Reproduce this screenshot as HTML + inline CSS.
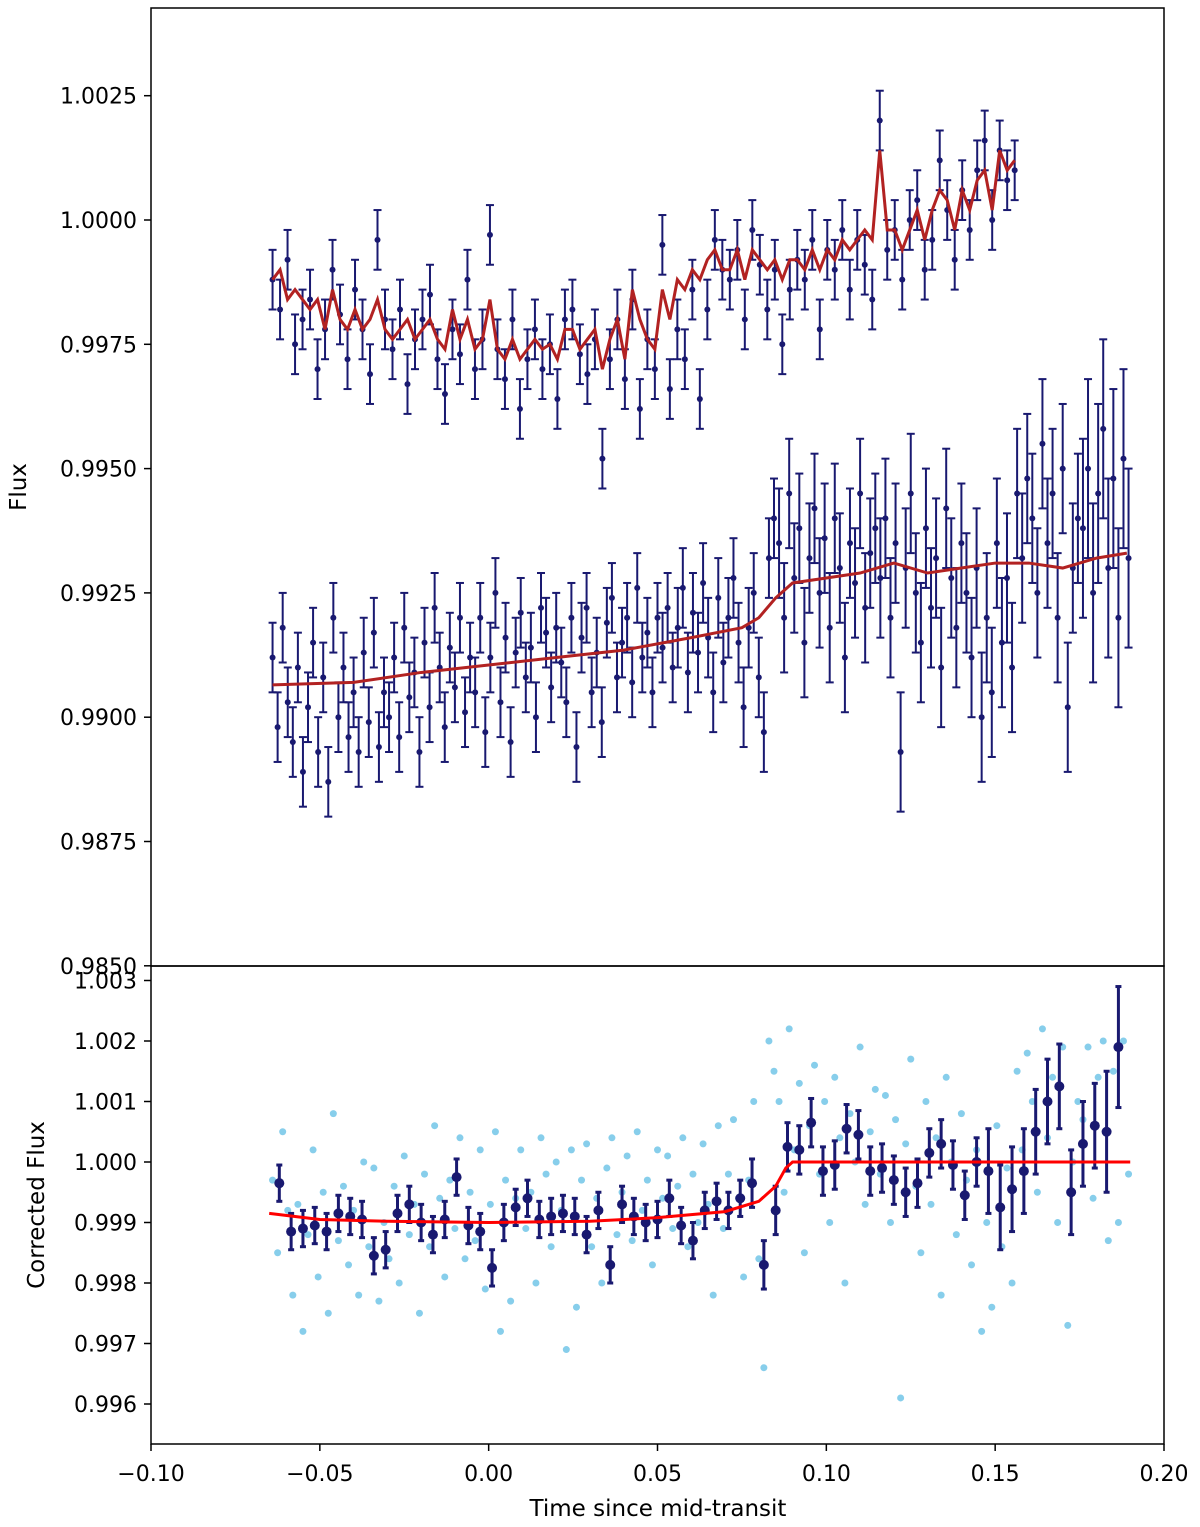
<!DOCTYPE html>
<html><head><meta charset="utf-8"><style>
html,body{margin:0;padding:0;background:#fff;}
svg{display:block;font-family:"DejaVu Sans","Liberation Sans",sans-serif;}
</style></head><body>
<svg id="chart" width="1200" height="1527" viewBox="0 0 1200 1527" xmlns="http://www.w3.org/2000/svg">
<g id="topPanel"></g>
<g id="botPanel"></g>
</svg>
<script>
// ---- data ----
const topStart = -0.064, topStep = 0.00222;
const topFlux = [0.9988,0.9982,0.9992,0.9975,0.9980,0.9984,0.9970,0.9978,0.9990,0.9981,
0.9972,0.9986,0.9978,0.9969,0.9996,0.9980,0.9974,0.9982,0.9967,0.9976,
0.9980,0.9985,0.9972,0.9965,0.9978,0.9973,0.9988,0.9970,0.9976,0.9997,
0.9974,0.9968,0.9980,0.9962,0.9972,0.9978,0.9970,0.9975,0.9964,0.9980,
0.9982,0.9973,0.9969,0.9976,0.9952,0.9972,0.9980,0.9968,0.9984,0.9962,
0.9976,0.9970,0.9995,0.9966,0.9978,0.9972,0.9986,0.9964,0.9982,0.9996,
0.9990,0.9988,0.9994,0.9980,0.9998,0.9991,0.9982,0.9990,0.9975,0.9986,
0.9992,0.9988,0.9996,0.9978,0.9994,0.9990,0.9998,0.9986,0.9996,0.9991,
0.9984,1.0020,0.9994,0.9998,0.9988,1.0000,1.0004,0.9990,0.9996,1.0012,
1.0002,0.9992,1.0006,0.9998,1.0010,1.0016,1.0000,1.0014,1.0008,1.0010];
const topModel = [0.9988,0.9990,0.9984,0.9986,0.9984,0.9982,0.9984,0.9978,0.9986,0.9980,
0.9978,0.9982,0.9978,0.9980,0.9984,0.9978,0.9976,0.9978,0.9980,0.9976,
0.9978,0.9980,0.9976,0.9974,0.9982,0.9976,0.9980,0.9974,0.9976,0.9984,
0.9974,0.9972,0.9976,0.9972,0.9974,0.9976,0.9974,0.9975,0.9972,0.9978,
0.9978,0.9974,0.9976,0.9978,0.9970,0.9976,0.9980,0.9972,0.9986,0.9980,
0.9976,0.9974,0.9986,0.9980,0.9988,0.9986,0.9990,0.9988,0.9992,0.9994,
0.9990,0.9990,0.9994,0.9988,0.9994,0.9992,0.9990,0.9992,0.9988,0.9992,
0.9992,0.9990,0.9994,0.9990,0.9994,0.9992,0.9996,0.9994,0.9996,0.9998,
0.9996,1.0014,0.9998,0.9998,0.9994,0.9998,1.0002,0.9996,1.0002,1.0006,
1.0004,0.9998,1.0006,1.0002,1.0008,1.0010,1.0002,1.0014,1.0010,1.0012];
const topErr = 0.0006;

const midStart = -0.064, midStep = 0.0015;
const midFlux = [0.9912,0.9898,0.9918,0.9903,0.9895,0.9910,0.9889,0.9902,0.9915,0.9893,0.9908,0.9887,0.9920,0.9900,0.9910,0.9896,0.9905,0.9893,0.9913,0.9899,
0.9917,0.9894,0.9905,0.9900,0.9912,0.9896,0.9918,0.9904,0.9909,0.9893,0.9915,0.9902,0.9922,0.9910,0.9898,0.9914,0.9906,0.9920,0.9901,0.9912,
0.9905,0.9920,0.9897,0.9912,0.9925,0.9903,0.9916,0.9895,0.9913,0.9921,0.9908,0.9914,0.9900,0.9922,0.9917,0.9906,0.9918,0.9911,0.9903,0.9920,
0.9894,0.9916,0.9922,0.9905,0.9913,0.9899,0.9919,0.9924,0.9908,0.9915,0.9920,0.9907,0.9926,0.9912,0.9917,0.9905,0.9920,0.9914,0.9922,0.9910,
0.9918,0.9926,0.9909,0.9921,0.9913,0.9927,0.9916,0.9905,0.9924,0.9911,0.9920,0.9928,0.9915,0.9902,0.9918,0.9925,0.9908,0.9897,0.9932,0.9940,
0.9935,0.9920,0.9945,0.9928,0.9938,0.9915,0.9932,0.9942,0.9925,0.9936,0.9918,0.9940,0.9930,0.9912,0.9935,0.9927,0.9945,0.9922,0.9933,0.9938,
0.9928,0.9940,0.9920,0.9935,0.9893,0.9930,0.9945,0.9925,0.9915,0.9938,0.9922,0.9932,0.9910,0.9942,0.9928,0.9918,0.9935,0.9925,0.9912,0.9930,
0.9900,0.9920,0.9905,0.9935,0.9915,0.9928,0.9910,0.9945,0.9932,0.9948,0.9940,0.9925,0.9955,0.9935,0.9945,0.9920,0.9950,0.9902,0.9930,0.9940,
0.9938,0.9950,0.9925,0.9945,0.9958,0.9930,0.9948,0.9920,0.9952,0.9932];
const midErrBlocks = [0.0007,0.0007,0.0007,0.0007,0.0008,0.0011,0.0012,0.0013,0.0018];
const midModelT = [-0.064,-0.04,-0.02,0,0.02,0.04,0.06,0.075,0.08,0.085,0.09,0.1,0.11,0.12,0.13,0.14,0.15,0.16,0.17,0.18,0.189];
const midModel = [0.99065,0.9907,0.9909,0.99105,0.9912,0.99135,0.9916,0.9918,0.9920,0.9924,0.9927,0.9928,0.9929,0.9931,0.9929,0.9930,0.9931,0.9931,0.9930,0.9932,0.9933];

const lightFlux = [0.9997,0.9985,1.0005,0.9992,0.9978,0.9993,0.9972,0.9988,1.0002,0.9981,0.9995,0.9975,1.0008,0.9987,0.9996,0.9983,0.9992,0.9978,1.0000,0.9986,
0.9999,0.9977,0.9990,0.9984,0.9996,0.9980,1.0001,0.9988,0.9993,0.9975,0.9998,0.9986,1.0006,0.9994,0.9981,0.9997,0.9989,1.0004,0.9984,0.9995,
0.9987,1.0002,0.9979,0.9993,1.0005,0.9972,0.9997,0.9977,0.9994,1.0002,0.9989,0.9995,0.9980,1.0004,0.9998,0.9986,1.0000,0.9992,0.9969,1.0002,
0.9976,0.9997,1.0003,0.9986,0.9994,0.9980,0.9999,1.0004,0.9988,0.9995,1.0001,0.9987,1.0005,0.9992,0.9997,0.9983,1.0002,0.9994,1.0001,0.9989,
0.9996,1.0004,0.9986,0.9998,0.9990,1.0003,0.9993,0.9978,1.0006,0.9989,0.9998,1.0007,0.9994,0.9981,0.9997,1.0010,0.9984,0.9966,1.0020,1.0015,
1.0010,0.9995,1.0022,1.0002,1.0013,0.9985,1.0006,1.0016,0.9998,1.0010,0.9990,1.0014,1.0004,0.9980,1.0008,1.0000,1.0019,0.9993,1.0005,1.0012,
0.9998,1.0011,0.9990,1.0007,0.9961,1.0003,1.0017,0.9996,0.9985,1.0010,0.9993,1.0004,0.9978,1.0014,1.0000,0.9988,1.0008,0.9997,0.9983,1.0002,
0.9972,0.9990,0.9976,1.0006,0.9986,0.9999,0.9980,1.0015,1.0002,1.0018,1.0010,0.9995,1.0022,1.0004,1.0014,0.9990,1.0019,0.9973,1.0000,1.0010,
1.0007,1.0019,0.9994,1.0014,1.0020,0.9987,1.0015,0.9990,1.0020,0.9998];

const binStart = -0.062, binStep = 0.0035;
const binFlux = [0.99965,0.99885,0.99890,0.99895,0.99885,0.99915,0.99910,0.99905,0.99845,0.99855,
0.99915,0.99930,0.99900,0.99880,0.99905,0.99975,0.99895,0.99885,0.99825,0.99900,
0.99925,0.99940,0.99905,0.99910,0.99915,0.99910,0.99880,0.99920,0.99830,0.99930,
0.99910,0.99900,0.99905,0.99940,0.99895,0.99870,0.99920,0.99935,0.99920,0.99940,
0.99965,0.99830,0.99920,1.00025,1.00020,1.00065,0.99985,0.99995,1.00055,1.00045,
0.99985,0.99990,0.99970,0.99950,0.99965,1.00015,1.00030,0.99995,0.99945,1.00000,
0.99985,0.99925,0.99955,0.99985,1.00050,1.00100,1.00125,0.99950,1.00030,1.00060,
1.00050,1.00190];
const binErrBlocks = [0.0003,0.0003,0.0003,0.0003,0.0004,0.0004,0.0007,0.0010];
const transitT = [-0.065,-0.05,-0.03,0,0.03,0.05,0.07,0.08,0.085,0.088,0.09,0.19];
const transitModel = [0.99915,0.99905,0.99902,0.99900,0.99902,0.99908,0.99918,0.99935,0.99960,0.99990,1.0,1.0];

const xTicks = [-0.10,-0.05,0.00,0.05,0.10,0.15,0.20];
const xTickLabels = ["\u22120.10","\u22120.05","0.00","0.05","0.10","0.15","0.20"];
const topTicks = [0.9850,0.9875,0.9900,0.9925,0.9950,0.9975,1.0000,1.0025];
const topTickLabels = ["0.9850","0.9875","0.9900","0.9925","0.9950","0.9975","1.0000","1.0025"];
const botTicks = [0.996,0.997,0.998,0.999,1.000,1.001,1.002,1.003];
const botTickLabels = ["0.996","0.997","0.998","0.999","1.000","1.001","1.002","1.003"];

// ---- axes ----
const L=151,R=1164,T1=8,B1=966,T2=966,B2=1444;
const xS = v => L + (v+0.10)/0.30*(R-L);
const yTop = v => 220 + (1.0 - v)/0.0025*124.3;
const yBot = v => 1162 + (1.0 - v)/0.001*60.5;
const NS="http://www.w3.org/2000/svg";
function mk(tag, attrs, parent){const e=document.createElementNS(NS,tag);for(const k in attrs)e.setAttribute(k,attrs[k]);parent.appendChild(e);return e;}
const topG=document.getElementById('topPanel'), botG=document.getElementById('botPanel'), svgEl=document.getElementById('chart');
const NAVY="#191970";

function errPoint(g, x, y, yl, yh, r, cap, w, name){
  const ln=mk('line',{x1:x,x2:x,y1:yl,y2:yh,stroke:NAVY,'stroke-width':w},g);
  
  
  const c1=mk('line',{x1:x-cap,x2:x+cap,y1:yl,y2:yl,stroke:NAVY,'stroke-width':w},g);
  
  
  const c2=mk('line',{x1:x-cap,x2:x+cap,y1:yh,y2:yh,stroke:NAVY,'stroke-width':w},g);
  
  
  const d=mk('circle',{cx:x,cy:y,r:r,fill:NAVY},g);
  
  
}

midFlux.forEach((v,i)=>{
  const t=midStart+i*midStep, e=midErrBlocks[Math.min(8,Math.floor(i/20))];
  errPoint(topG,xS(t),yTop(v),yTop(v-e),yTop(v+e),3,4,2,'raw-flux-2');
});
const pm=midModelT.map((t,i)=>xS(t)+','+yTop(midModel[i])).join(' ');
const ml=mk('polyline',{points:pm,fill:'none',stroke:'#b22222','stroke-width':3},topG);


topFlux.forEach((v,i)=>{
  const t=topStart+i*topStep;
  errPoint(topG,xS(t),yTop(v),yTop(v-topErr),yTop(v+topErr),3,4,2,'raw-flux-1');
});
const pt=topModel.map((v,i)=>xS(topStart+i*topStep)+','+yTop(v)).join(' ');
const tl=mk('polyline',{points:pt,fill:'none',stroke:'#b22222','stroke-width':3},topG);



lightFlux.forEach((v,i)=>{
  const c=mk('circle',{cx:xS(midStart+i*midStep),cy:yBot(v),r:3.5,fill:'#87ceeb'},botG);
  
  
});
binFlux.forEach((v,i)=>{
  const t=binStart+i*binStep, e=binErrBlocks[Math.min(7,Math.floor(i/10))];
  errPoint(botG,xS(t),yBot(v),yBot(v-e),yBot(v+e),5,3,3,'binned-flux');
});
const pb=transitT.map((t,i)=>xS(t)+','+yBot(transitModel[i])).join(' ');
const bl=mk('polyline',{points:pb,fill:'none',stroke:'#ff0000','stroke-width':3},botG);



const f1=mk('rect',{x:L,y:T1,width:R-L,height:B1-T1,fill:'none',stroke:'#000','stroke-width':1.5},svgEl);


const f2=mk('rect',{x:L,y:T2,width:R-L,height:B2-T2,fill:'none',stroke:'#000','stroke-width':1.5},svgEl);



function txt(s,x,y,anchor,size,parent,name,rot){
  const a={x:x,y:y,'text-anchor':anchor,'font-size':size,fill:'#000'};
  if(rot)a.transform='rotate(-90 '+x+' '+y+')';
  const e=mk('text',a,parent);e.textContent=s;
  
  
  return e;
}
topTicks.forEach((v,i)=>{
  const y=yTop(v);
  const tk=mk('line',{x1:L-7,x2:L,y1:y,y2:y,stroke:'#000','stroke-width':1.5},svgEl);
  
  
  txt(topTickLabels[i],L-14,y+8,'end',22,svgEl,'top-y-tick-label');
});
botTicks.forEach((v,i)=>{
  const y=yBot(v);
  const tk=mk('line',{x1:L-7,x2:L,y1:y,y2:y,stroke:'#000','stroke-width':1.5},svgEl);
  
  
  txt(botTickLabels[i],L-14,y+8,'end',22,svgEl,'bottom-y-tick-label');
});
xTicks.forEach((v,i)=>{
  const x=xS(v);
  const tk=mk('line',{x1:x,x2:x,y1:B2,y2:B2+7,stroke:'#000','stroke-width':1.5},svgEl);
  
  
  txt(xTickLabels[i],x,B2+37,'middle',22,svgEl,'x-tick-label');
});
txt('Time since mid-transit',658,1516,'middle',23,svgEl,'x-axis-title');
txt('Flux',26,487,'middle',23,svgEl,'top-y-axis-title',true);
txt('Corrected Flux',44,1205,'middle',23,svgEl,'bottom-y-axis-title',true);
</script>
</body></html>
